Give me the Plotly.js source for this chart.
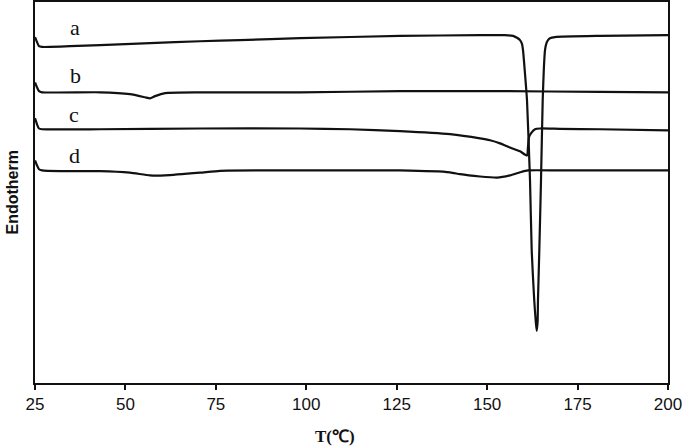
<!DOCTYPE html>
<html>
<head>
<meta charset="utf-8">
<script src="https://cdn.plot.ly/plotly-3.0.1.min.js"></script>
<style>html,body{margin:0;padding:0;background:#fff;}#chart{width:685px;height:446px;}</style>
</head>
<body>
<div id="chart"></div>
<script>
// Temperature (°C) and heat-flow (arbitrary units, endotherm down)
const tempA = [25.00,25.55,26.11,26.94,29.15,34.68,42.97,56.79,70.62,81.67,98.26,125.91,148.03,154.94,157.15,158.25,159.09,159.63,159.91,160.40,161.02,161.85,162.32,163.00,163.45,163.70,163.95,164.06,164.42,164.89,165.36,165.70,166.00,166.40,166.83,167.38,168.76,181.20,200.00];
const valA  = [9.08,8.95,8.84,8.82,8.82,8.84,8.87,8.92,8.97,9.00,9.05,9.11,9.13,9.13,9.11,9.06,9.00,8.90,8.74,8.20,7.42,5.32,3.47,2.20,1.60,1.37,1.60,2.20,3.47,5.32,7.42,8.30,8.74,8.92,9.00,9.05,9.08,9.11,9.13];

const tempB = [25.00,25.55,26.11,26.94,42.97,51.26,55.41,56.79,58.18,60.94,70.62,98.26,125.91,153.56,181.20,200.00];
const valB  = [7.89,7.76,7.66,7.63,7.63,7.58,7.50,7.47,7.53,7.61,7.63,7.63,7.66,7.66,7.64,7.63];

const tempC = [25.00,25.55,26.11,26.94,42.97,70.62,98.26,112.09,125.91,139.73,148.03,150.79,153.56,156.32,159.09,161.02,161.29,161.57,162.12,163.23,164.61,170.14,181.20,200.00];
const valC  = [6.95,6.79,6.68,6.66,6.66,6.68,6.68,6.66,6.61,6.53,6.42,6.37,6.29,6.18,6.08,5.97,6.20,6.45,6.55,6.66,6.68,6.67,6.66,6.63];

const tempD = [25.00,25.55,26.11,26.94,31.91,42.97,51.26,56.79,60.94,70.62,76.15,98.26,125.91,139.73,142.50,148.03,152.73,156.32,159.09,161.29,170.14,200.00];
const valD  = [5.84,5.71,5.61,5.58,5.56,5.56,5.52,5.45,5.45,5.52,5.57,5.58,5.58,5.53,5.48,5.42,5.39,5.45,5.53,5.58,5.58,5.58];

const curveLabels = ['a','b','c','d'];
const labelTemp = [36.1, 36.1, 35.8, 35.8];
const labelVal  = [9.34, 8.08, 7.05, 5.97];

const xTicks = [25,50,75,100,125,150,175,200];

const lineStyle = {color:'#111', width:2.2, shape:'spline', smoothing:0.5};
const traces = [
  {x:tempA, y:valA, mode:'lines', line:lineStyle, name:'a'},
  {x:tempB, y:valB, mode:'lines', line:lineStyle, name:'b'},
  {x:tempC, y:valC, mode:'lines', line:lineStyle, name:'c'},
  {x:tempD, y:valD, mode:'lines', line:lineStyle, name:'d'}
];

const annotations = curveLabels.map((t,i)=>({
  x: labelTemp[i], y: labelVal[i], xref:'x', yref:'y', text:t, showarrow:false,
  font:{family:'Liberation Serif, Times New Roman, serif', size:22, color:'#111'}
}));
annotations.push({
  x: 0.474, y: -0.14, xref:'paper', yref:'paper', text:'T(℃)', showarrow:false,
  xanchor:'center', yanchor:'middle',
  font:{family:'Liberation Serif, Times New Roman, serif', size:17, color:'#111', weight:'bold'}
});
annotations.push({
  x: -0.0363, y: 0.5, xref:'paper', yref:'paper', text:'<b>Endotherm</b>', showarrow:false,
  textangle:-90, xanchor:'center', yanchor:'middle',
  font:{family:'Liberation Sans, Arial, sans-serif', size:16, color:'#111'}
});

const layout = {
  width:685, height:446,
  margin:{l:35, r:17, t:2, b:63},
  paper_bgcolor:'#fff', plot_bgcolor:'#fff',
  showlegend:false,
  xaxis:{
    range:[25,200], tickvals:xTicks, ticktext:xTicks.map(String),
    ticks:'outside', ticklen:5, tickwidth:2, tickcolor:'#111',
    showline:true, linecolor:'#111', linewidth:2, mirror:true,
    showgrid:false, zeroline:false,
    tickfont:{family:'Liberation Sans, Arial, sans-serif', size:17, color:'#111'}
  },
  yaxis:{
    range:[0,10], showticklabels:false, ticks:'',
    showline:true, linecolor:'#111', linewidth:2, mirror:true,
    showgrid:false, zeroline:false
  },
  annotations: annotations
};

Plotly.newPlot('chart', traces, layout, {staticPlot:true, displayModeBar:false});
</script>
</body>
</html>
